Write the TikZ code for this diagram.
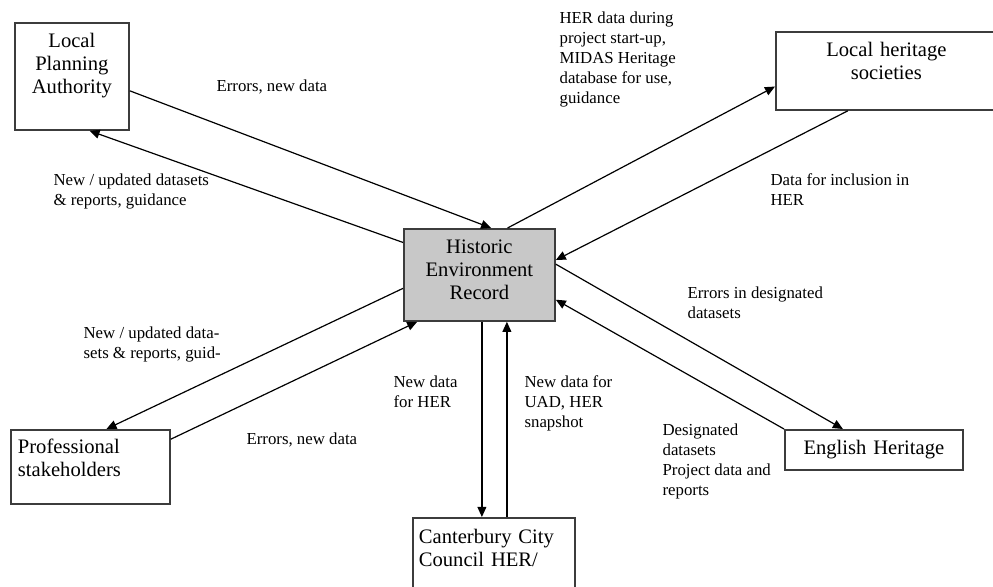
\documentclass[tikz,border=0pt]{standalone}
\usepackage{fontspec}
\setmainfont{Liberation Serif}
\usetikzlibrary{arrows.meta}
\definecolor{herfill}{RGB}{200,200,200}
\definecolor{edge}{RGB}{60,60,60}

\begin{document}
\begin{tikzpicture}[x=0.5pt,y=-0.5pt,line width=0.6pt,
  box/.style={draw=edge,line width=0.9pt,inner sep=0pt,anchor=north west,
    font=\fontsize{10.3}{11.5}\selectfont},
  flow/.style={-{Triangle[length=5pt,width=4.4pt]}},
  note/.style={anchor=north west,inner sep=0pt,align=left,
    font=\fontsize{8.4}{10}\selectfont}]
\useasboundingbox (0,0) rectangle (993,587);
% boxes
\node [box,text width=57pt,align=center,text height=12.5pt,text depth=41pt] (lpa) at (14,22) {Local\\Planning\\Authority};
\node [box,text width=110.5pt,align=center,text height=12.5pt,text depth=26.5pt] (lhs) at (775,31) {Local heritage\\societies};
\node [box,fill=herfill,text width=75.5pt,align=center,text height=12.5pt,text depth=33.5pt] (her) at (403,228) {Historic\\Environment\\Record};
\node [box,inner xsep=3.5pt,text width=72.5pt,align=left,text height=12pt,text depth=25pt] (prof) at (10,429) {Professional\\stakeholders};
\node [box,text width=89pt,align=center,text height=12.5pt,text depth=7.5pt] (eh) at (784,429) {English Heritage};
\node [box,inner xsep=3pt,text width=75pt,align=left,text height=13pt,text depth=30pt] (cv) at (412,517) {Canterbury City\\Council HER/};
% labels
\node [note] (l1) at (216,79) {Errors, new data};
\node [note] (l2) at (53,173) {New / updated datasets\\\& reports, guidance};
\node [note] (l3) at (559,11) {HER data during\\project start-up,\\MIDAS Heritage\\database for use,\\guidance};
\node [note] (l4) at (770,173) {Data for inclusion in\\HER};
\node [note] (l5) at (687,286) {Errors in designated\\datasets};
\node [note] (l6) at (662,423) {Designated\\datasets\\Project data and\\reports};
\node [note] (l7) at (83,326) {New / updated data-\\sets \& reports, guid-};
\node [note] (l8) at (246,432) {Errors, new data};
\node [note] (l9) at (393,375) {New data\\for HER};
\node [note] (l10) at (524,375) {New data for\\UAD, HER\\snapshot};
% arrows
\draw [flow] (lpa.-14) -- (her.76);
\draw [flow] (her.157) -- (lpa.-72);
\draw [flow] (her.59) -- (lhs.188);
\draw [flow] (lhs.-134) -- (her.11);
\draw [flow] (her.8) -- (eh.146);
\draw [flow] (eh.north west) -- (her.-18);
\draw [flow] (her.190) -- (prof.67);
\draw [flow] (prof.19) -- (her.-143);
% down and up to the council
\coordinate (d1) at ([xshift=1.25pt]her.south);
\coordinate (d2) at ([xshift=13.75pt]her.south);
\draw [flow] (d1) -- (d1 |- cv.north);
\draw [flow] (d2 |- cv.north) -- (d2);
\end{tikzpicture}
\end{document}
